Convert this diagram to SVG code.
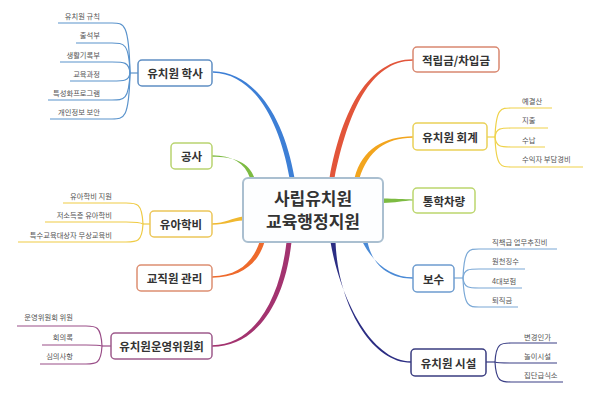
<svg xmlns="http://www.w3.org/2000/svg" width="600" height="407" viewBox="0 0 600 407">
<style>
text{font-family:"Noto Sans CJK KR","Noto Sans",sans-serif}
.node rect{fill:#ffffff;stroke-width:1.5}
.nt{font-size:11.5px;font-weight:bold;fill:#333;text-anchor:middle;dominant-baseline:central}
.ct{font-size:17px;font-weight:bold;fill:#333;text-anchor:middle}
.lf{font-size:7.3px;fill:#555}
.le{text-anchor:end}
.ls{fill:none;stroke-width:1.2}
</style>
<rect width="600" height="407" fill="#ffffff"/>
<g id="connectors">
<path d="M213,71.3 C256,72.5 284.5,119 294.5,178 L289.5,178 C279.5,121 254,73.5 213,72.7 Z" fill="#3d7fd6"/>
<path d="M413,59.3 C369,59.5 342,109 329.5,178 L334.5,178 C348,111 371,60.5 413,60.7 Z" fill="#e2553a"/>
<path d="M413,136.3 C384,136.5 362,149 354.5,178 L359.5,178 C368,151 386,137.5 413,137.7 Z" fill="#f2a51e"/>
<path d="M212,155.3 C232,155.5 245,163 250,178 L254.5,178 C249,162 234,156.7 212,156.7 Z" fill="#7dbb42"/>
<path d="M212,223.3 C225,223.3 232,218 243,216.5 L243,220.5 C233,221 226,224.7 212,224.7 Z" fill="#f0b830"/>
<path d="M212,276.3 C238,276 253,262 259.5,242 L264.5,242 C258,264 241,277.7 212,277.7 Z" fill="#ee6a2c"/>
<path d="M212,345.3 C254,345 280,300 286.5,242 L291.5,242 C285,302 257,346.7 212,346.7 Z" fill="#a3336f"/>
<path d="M330.5,242 C341,302 373,361.3 411,361.3 L411,362.7 C371,362.7 338,304 335.5,242 Z" fill="#2b2d83"/>
<path d="M362.5,242 C375,266 393,277.3 413,277.3 L413,278.7 C392,278.7 373,268 367.5,242 Z" fill="#4a8ad6"/>
<path d="M383,198.5 C395,198.5 403,199.4 413,199.4 L413,200.6 C403,200.6 395,203 383,203 Z" fill="#7dbb42"/>
<g stroke="#5a93cc" class="ls">
<path d="M138,73 H130"/>
<path d="M130,73 C129,23 124,23 112,23 H58"/>
<path d="M130,73 C129,43 124,43 112,43 H76"/>
<path d="M130,73 C129,62 124,62 112,62 H60"/>
<path d="M130,73 C129,81 124,81 112,81 H70"/>
<path d="M130,73 C129,100 124,100 112,100 H48"/>
<path d="M130,73 C129,119 124,119 112,119 H50"/>
</g>
<g stroke="#efcb45" class="ls">
<path d="M150,224 H143"/>
<path d="M143,224 C142,203 137,203 126,203 H63"/>
<path d="M143,224 C140,222 135,222 126,222 H45"/>
<path d="M143,224 C142,242 137,242 126,242 H18"/>
</g>
<g stroke="#9a4e88" class="ls">
<path d="M111,346 H102"/>
<path d="M102,346 C101,326 96,326 86,326 H17"/>
<path d="M102,346 C99,345 94,345 86,345 H42"/>
<path d="M102,346 C101,364 96,364 86,364 H40"/>
</g>
<g stroke="#efd24a" class="ls">
<path d="M487,137 H495"/>
<path d="M495,137 C496,108 501,108 511,108 H552"/>
<path d="M495,137 C496,128 501,128 511,128 H548"/>
<path d="M495,137 C496,147 501,147 511,147 H545"/>
<path d="M495,137 C496,167 501,167 511,167 H583"/>
</g>
<g stroke="#7aa8d6" class="ls">
<path d="M454,278 H463"/>
<path d="M463,278 C464,249 469,249 479,249 H557"/>
<path d="M463,278 C464,269 469,269 479,269 H525"/>
<path d="M463,278 C464,288 469,288 479,288 H522"/>
<path d="M463,278 C464,307 469,307 479,307 H518"/>
</g>
<g stroke="#3b3f86" class="ls">
<path d="M486,362 H495"/>
<path d="M495,362 C496,343 501,343 511,343 H557"/>
<path d="M495,362 C497,363 502,363 511,363 H557"/>
<path d="M495,362 C496,382 501,382 511,382 H563"/>
</g>
</g>
<g id="center" class="node">
<rect x="243" y="178" width="140" height="64" rx="5" style="fill:#fdfeff;stroke:#aabfd0;stroke-width:2"/>
<text class="ct" x="313" y="205">사립유치원</text>
<text class="ct" x="313" y="228">교육행정지원</text>
</g>
<g id="n-haksa" class="node">
<rect x="138" y="60" width="74" height="26" rx="4" stroke="#5f8fc4"/>
<text class="nt" x="175" y="73">유치원 학사</text>
<text class="lf le" x="100" y="18.5">유치원 규칙</text>
<text class="lf le" x="100" y="38">출석부</text>
<text class="lf le" x="100" y="57.5">생활기록부</text>
<text class="lf le" x="100" y="76.5">교육과정</text>
<text class="lf le" x="100" y="95.5">특성화프로그램</text>
<text class="lf le" x="100" y="114.5">개인정보 보안</text>
</g>
<g id="n-gongsa" class="node">
<rect x="171" y="143" width="41" height="26" rx="4" stroke="#b9d470"/>
<text class="nt" x="191.5" y="156">공사</text>
</g>
<g id="n-yuahakbi" class="node">
<rect x="150" y="211" width="62" height="26" rx="4" stroke="#ecc65a"/>
<text class="nt" x="181" y="224">유아학비</text>
<text class="lf le" x="112" y="198.5">유아학비 지원</text>
<text class="lf le" x="112" y="217.5">저소득층 유아학비</text>
<text class="lf le" x="112" y="237.5">특수교육대상자 무상교육비</text>
</g>
<g id="n-staff" class="node">
<rect x="137" y="265" width="75" height="26" rx="4" stroke="#dd8f72"/>
<text class="nt" x="174.5" y="278">교직원 관리</text>
</g>
<g id="n-committee" class="node">
<rect x="111" y="333" width="101" height="26" rx="4" stroke="#9e5b8c"/>
<text class="nt" x="161.5" y="346">유치원운영위원회</text>
<text class="lf le" x="73" y="320">운영위원회 위원</text>
<text class="lf le" x="73" y="340">회의록</text>
<text class="lf le" x="73" y="359">심의사항</text>
</g>
<g id="n-reserve" class="node">
<rect x="413" y="47" width="86" height="25" rx="4" stroke="#d98870"/>
<text class="nt" x="456" y="59.5">적립금/차입금</text>
</g>
<g id="n-account" class="node">
<rect x="413" y="123" width="74" height="27" rx="4" stroke="#ead158"/>
<text class="nt" x="450" y="136.5">유치원 회계</text>
<text class="lf" x="522" y="103.5">예결산</text>
<text class="lf" x="522" y="122.5">지출</text>
<text class="lf" x="522" y="143">수납</text>
<text class="lf" x="522" y="161.5">수익자 부담경비</text>
</g>
<g id="n-bus" class="node">
<rect x="413" y="188" width="62" height="25" rx="4" stroke="#bcd66e"/>
<text class="nt" x="444" y="200.5">통학차량</text>
</g>
<g id="n-pay" class="node">
<rect x="413" y="265" width="41" height="27" rx="4" stroke="#6d9ccf"/>
<text class="nt" x="433.5" y="278.5">보수</text>
<text class="lf" x="492" y="245">직책급 업무추진비</text>
<text class="lf" x="492" y="264">원천징수</text>
<text class="lf" x="492" y="284">4대보험</text>
<text class="lf" x="492" y="303">퇴직금</text>
</g>
<g id="n-facility" class="node">
<rect x="411" y="349" width="75" height="27" rx="4" stroke="#3a3d80"/>
<text class="nt" x="448.5" y="362.5">유치원 시설</text>
<text class="lf" x="524" y="340">변경인가</text>
<text class="lf" x="524" y="359">놀이시설</text>
<text class="lf" x="524" y="378">집단급식소</text>
</g>
</svg>
